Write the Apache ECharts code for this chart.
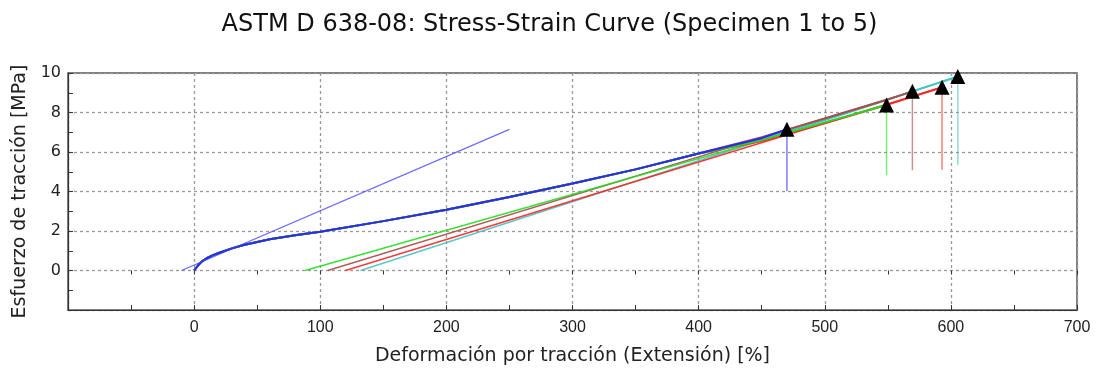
<!DOCTYPE html>
<html>
<head>
<meta charset="utf-8">
<script src="https://cdn.jsdelivr.net/npm/echarts@6/dist/echarts.min.js"></script>
<style>
  html, body { margin: 0; padding: 0; background: #fff; }
  #chart { width: 1099px; height: 374px; }
</style>
</head>
<body>
<div id="chart"></div>
<script>
// toe region shared by all specimens (strain %, stress MPa)
var toeCurve = [[0,0],[3,0.25],[6,0.45],[10,0.62],[15,0.78],[20,0.9],[30,1.12],[40,1.3],[60,1.58],[80,1.78],[100,1.96],
                [150,2.5],[200,3.08],[250,3.72],[300,4.4],[350,5.12],[400,5.92]];
// upper part of each specimen up to break
var tail1 = [[450,6.7],[470,7.15]];
var tail2 = [[450,6.6],[500,7.5],[549,8.38]];
var tail3 = [[450,6.75],[500,7.7],[550,8.65],[569.5,9.07]];
var tail4 = [[450,6.55],[500,7.45],[550,8.4],[593,9.28]];
var tail5 = [[450,6.65],[500,7.6],[550,8.65],[605.5,9.82]];
// drop after break
var drop1 = [[470,7.15],[470,4.02]];
var drop2 = [[549,8.38],[549,4.83]];
var drop3 = [[569.5,9.07],[569.5,5.07]];
var drop4 = [[593,9.28],[593,5.1]];
var drop5 = [[605.5,9.82],[605.5,5.33]];
// shifted straight lines for specimens 2-5
var shift2 = [[88,0],[549,8.38]];
var shift3 = [[106,0],[569.5,9.07]];
var shift4 = [[120,0],[593,9.28]];
var shift5 = [[132,0],[605.5,9.82]];
// modulus line of specimen 1
var tangentLine = [[-10,0],[250,7.15]];
// break points
var breakPoints = [[470,7.15],[549,8.38],[569.5,9.07],[593,9.28],[605.5,9.82]];

var colors = ['#2424ff', '#22dd22', '#a84a4a', '#ff2222', '#44c4c4'];
var tails = [tail1, tail2, tail3, tail4, tail5];
var drops = [drop1, drop2, drop3, drop4, drop5];
var shifts = [null, shift2, shift3, shift4, shift5];

var font = 'DejaVu Sans';
var series = [];

function lineSeries(data, color, width, opacity) {
    return {
        type: 'line', data: data, showSymbol: false, symbol: 'none',
        lineStyle: { color: color, width: width, opacity: opacity },
        animation: false, silent: true
    };
}

// draw in reverse so blue is on top
for (var i = 4; i >= 0; i--) {
    if (shifts[i]) series.push(lineSeries(shifts[i], colors[i], 1.5, 0.9));
}
for (var i = 4; i >= 0; i--) {
    series.push(lineSeries(drops[i], colors[i], 1.5, 0.6));
    series.push(lineSeries(toeCurve.concat(tails[i]), colors[i], 2, 0.95));
}
series.push(lineSeries(tangentLine, '#3a3aff', 1.3, 0.75));
series.push({
    type: 'scatter', data: breakPoints, symbol: 'triangle', symbolSize: 15, z: 10,
    itemStyle: { color: '#000', opacity: 1 }, animation: false, silent: true
});

var myChart = echarts.init(document.getElementById('chart'));
myChart.setOption({
    backgroundColor: '#fff',
    title: {
        text: 'ASTM D 638-08: Stress-Strain Curve (Specimen 1 to 5)',
        left: 'center', top: 8,
        textStyle: { fontFamily: font, fontSize: 24, fontWeight: 'normal', color: '#111' }
    },
    grid: { left: 68, right: 22, top: 73, bottom: 64, show: true, borderColor: '#555', borderWidth: 1.5 },
    xAxis: [{
        type: 'value', min: -100, max: 700, interval: 100, position: 'bottom',
        name: 'Deformación por tracción (Extensión) [%]', nameLocation: 'middle', nameGap: 37,
        nameTextStyle: { fontFamily: font, fontSize: 19, color: '#222' },
        axisLine: { onZero: false, lineStyle: { color: '#333', width: 1.2 } },
        axisTick: { inside: true, length: 5, lineStyle: { color: '#333' } },
        minorTick: { show: true, splitNumber: 2, length: 5, lineStyle: { color: '#333' } },
        axisLabel: {
            fontFamily: 'Liberation Sans', fontSize: 16, color: '#222', margin: 10,
            formatter: function (v) { return v < 0 ? '' : String(v); }
        },
        splitLine: { show: true, lineStyle: { color: '#999', type: [3, 3], width: 1.3 } }
    }, {
        type: 'value', min: -100, max: 700, interval: 100, position: 'bottom',
        axisLine: { show: false },
        axisTick: { inside: false, length: 4, lineStyle: { color: '#333' } },
        minorTick: { show: true, splitNumber: 2, length: 4, lineStyle: { color: '#333' } },
        axisLabel: { show: false },
        splitLine: { show: false }
    }],
    yAxis: {
        type: 'value', min: -2, max: 10, interval: 2,
        name: 'Esfuerzo de tracción [MPa]', nameLocation: 'middle', nameGap: 37,
        nameTextStyle: { fontFamily: font, fontSize: 19, color: '#222' },
        axisLine: { onZero: false, lineStyle: { color: '#333', width: 1.2 } },
        axisTick: { inside: true, length: 5, lineStyle: { color: '#333' } },
        minorTick: { show: true, splitNumber: 2, length: 5, lineStyle: { color: '#333' } },
        axisLabel: {
            fontFamily: font, fontSize: 16, color: '#222', margin: 7,
            formatter: function (v) { return v < 0 ? '' : String(v); }
        },
        splitLine: { show: true, lineStyle: { color: '#999', type: [3, 3], width: 1.3 } }
    },
    series: series
});
</script>
</body>
</html>
